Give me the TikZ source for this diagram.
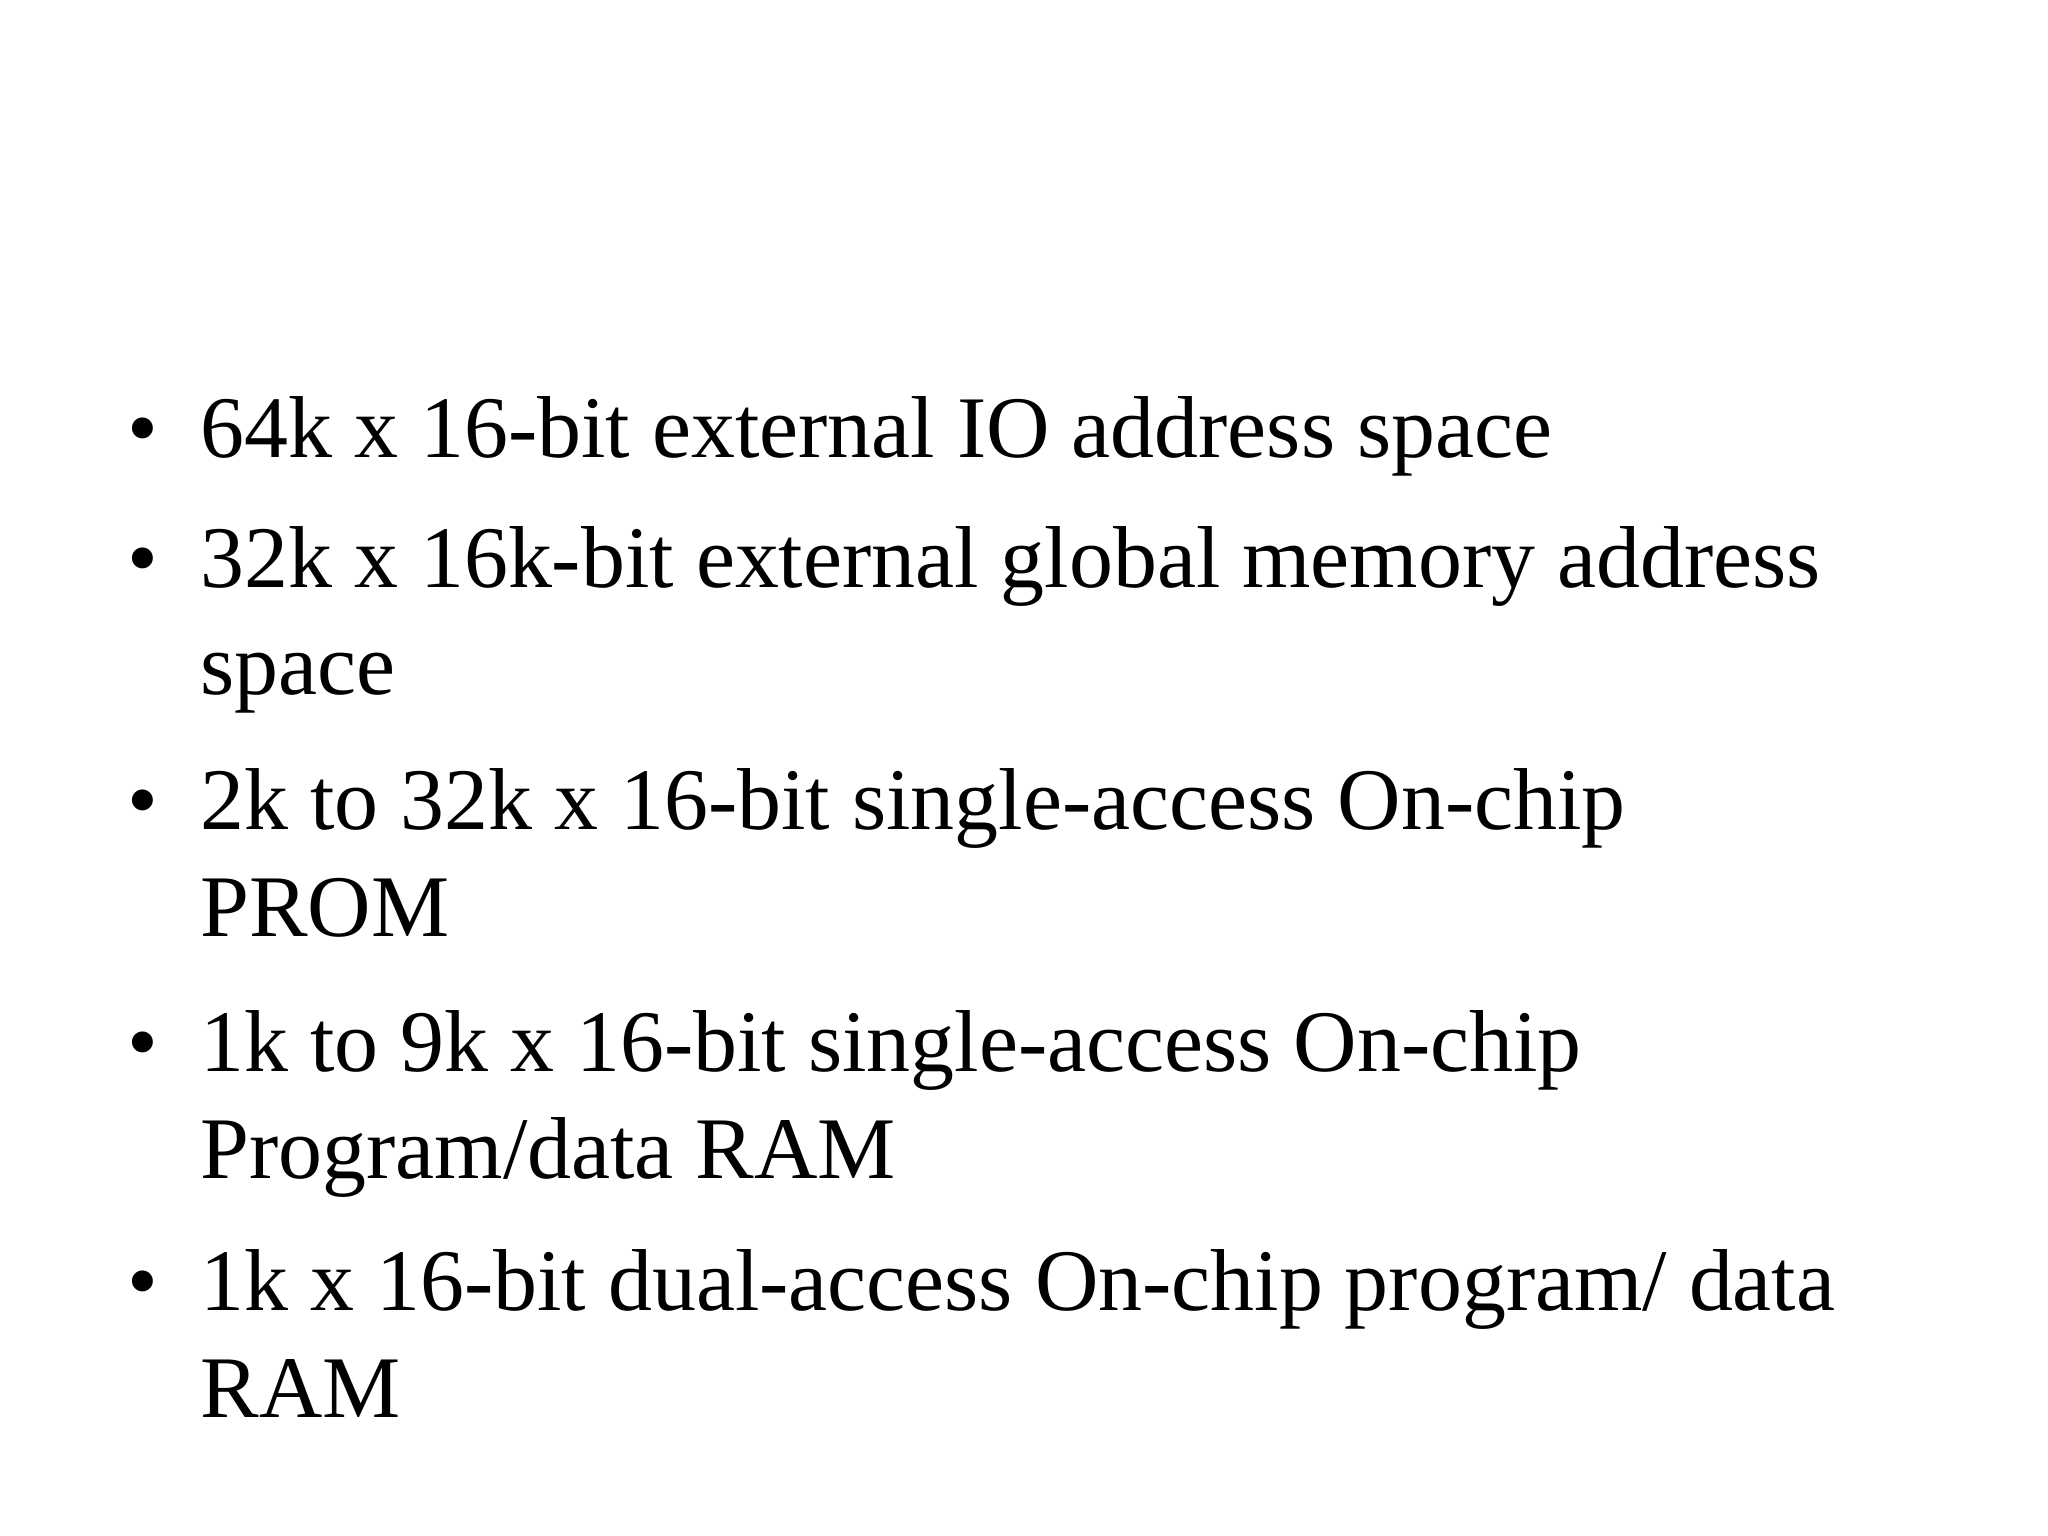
\documentclass[tikz,border=0pt]{standalone}
\usepackage{fontspec}
\setmainfont{Liberation Serif}
\begin{document}
\begin{tikzpicture}[x=0.01306cm,y=-0.01306cm,
  txt/.style={anchor=base west,inner sep=0pt,font=\fontsize{25}{30}\selectfont},
  bul/.style={anchor=base west,inner sep=0pt,font=\fontsize{25}{30}\selectfont}]
\useasboundingbox (0,0) rectangle (1568,1176);
\foreach \y/\t [count=\i] in {350/{64k x 16-bit external IO address space},
  450/{32k x 16k-bit external global memory address},
  532/{space},
  635/{2k to 32k x 16-bit single-access On-chip},
  717/{PROM},
  820/{1k to 9k x 16-bit single-access On-chip},
  902/{Program/data RAM},
  1003/{1k x 16-bit dual-access On-chip program/ data},
  1085/{RAM}}
  \node[txt] (l\i) at (153,\y) {\t};
\foreach \y [count=\i] in {350,450,635,820,1003}
  \node[bul] (b\i) at (97,\y) {•};
\end{tikzpicture}
\end{document}
